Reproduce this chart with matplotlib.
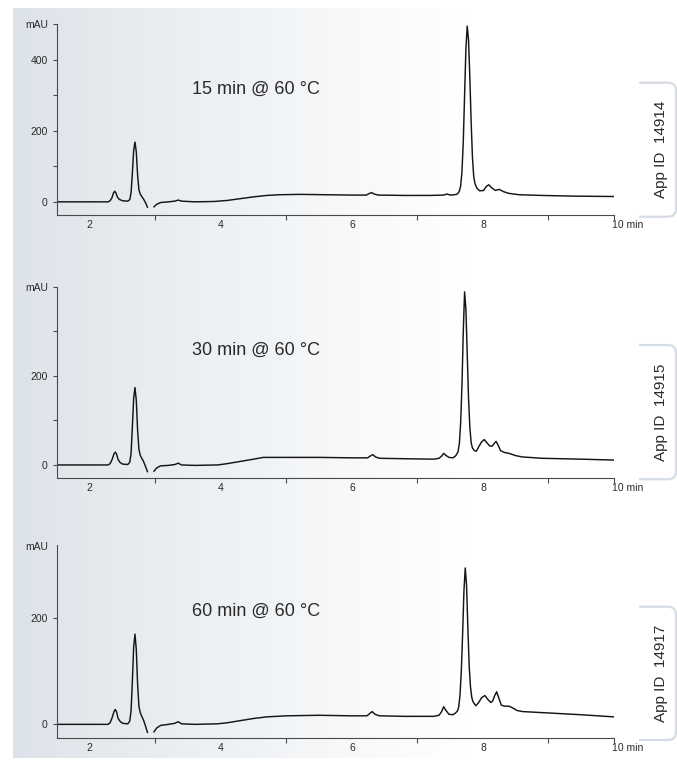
import numpy as np
import matplotlib
matplotlib.use("Agg")
import matplotlib.pyplot as plt
from matplotlib.path import Path
from matplotlib.patches import PathPatch

plt.rcParams['font.family'] = ['Liberation Sans', 'DejaVu Sans']

nan = float('nan')

# ---------------- data (retention time [min], signal [mAU]) ----------------
trace_15min = [
    (1.50, 0), (2.28, 0), (2.31, 3), (2.34, 12), (2.36, 24), (2.38, 30), (2.40, 25),
    (2.42, 14), (2.45, 7), (2.50, 3), (2.58, 2), (2.61, 6), (2.63, 25), (2.65, 80),
    (2.67, 145), (2.69, 168), (2.71, 140), (2.73, 75), (2.75, 34), (2.77, 22),
    (2.79, 16), (2.82, 8), (2.85, -2), (2.88, -15), (nan, nan),
    (2.98, -14), (3.02, -7), (3.08, -2), (3.20, 0), (3.30, 2), (3.35, 5), (3.40, 2),
    (3.60, 0), (3.90, 1), (4.10, 4), (4.30, 9), (4.50, 14), (4.70, 18), (4.90, 20),
    (5.20, 21), (5.60, 20), (6.00, 19), (6.22, 19), (6.26, 23), (6.30, 26), (6.34, 22),
    (6.40, 19), (6.80, 18), (7.20, 18), (7.40, 19), (7.45, 22), (7.50, 19), (7.56, 20),
    (7.60, 21), (7.62, 24), (7.64, 30), (7.66, 45), (7.68, 85), (7.70, 170), (7.72, 300),
    (7.74, 430), (7.76, 494), (7.78, 455), (7.80, 350), (7.82, 225), (7.84, 125),
    (7.86, 70), (7.88, 50), (7.91, 38), (7.95, 31), (8.01, 32), (8.05, 43), (8.09, 48),
    (8.13, 40), (8.19, 32), (8.25, 35), (8.31, 29), (8.39, 24), (8.55, 20), (8.90, 18),
    (9.40, 16), (10.0, 15),
]

trace_30min = [
    (1.50, 0), (2.28, 0), (2.31, 3), (2.34, 12), (2.37, 25), (2.39, 29), (2.41, 24),
    (2.43, 13), (2.46, 6), (2.50, 2), (2.58, 1), (2.61, 6), (2.63, 25), (2.65, 85),
    (2.67, 150), (2.69, 174), (2.71, 145), (2.73, 78), (2.75, 35), (2.77, 22),
    (2.79, 16), (2.82, 8), (2.85, -3), (2.88, -15), (nan, nan),
    (2.98, -14), (3.02, -7), (3.08, -2), (3.20, -1), (3.30, 1), (3.35, 4), (3.40, 0),
    (3.60, -1), (3.95, 0), (4.10, 3), (4.30, 8), (4.50, 13), (4.65, 17), (5.00, 17),
    (5.50, 17), (6.00, 16), (6.24, 16), (6.29, 21), (6.32, 23), (6.36, 18), (6.42, 15),
    (6.80, 14), (7.25, 13), (7.33, 15), (7.37, 20), (7.40, 26), (7.43, 22), (7.48, 17),
    (7.54, 16), (7.58, 20), (7.60, 24), (7.62, 30), (7.64, 48), (7.66, 95), (7.68, 180),
    (7.70, 300), (7.72, 389), (7.74, 350), (7.76, 250), (7.78, 150), (7.80, 85),
    (7.82, 50), (7.84, 38), (7.87, 32), (7.90, 31), (7.94, 42), (7.98, 52), (8.02, 57),
    (8.06, 50), (8.10, 43), (8.14, 42), (8.17, 48), (8.20, 53), (8.23, 45), (8.27, 32),
    (8.33, 28), (8.40, 26), (8.50, 21), (8.60, 18), (8.90, 15), (9.50, 13), (10.0, 11),
]

trace_60min = [
    (1.50, 0), (2.28, 0), (2.31, 3), (2.34, 12), (2.37, 24), (2.39, 28), (2.41, 23),
    (2.43, 12), (2.46, 6), (2.50, 2), (2.58, 1), (2.61, 6), (2.63, 25), (2.65, 80),
    (2.67, 145), (2.69, 169), (2.71, 140), (2.73, 75), (2.75, 34), (2.77, 22),
    (2.79, 16), (2.82, 8), (2.85, -3), (2.88, -15), (nan, nan),
    (2.98, -14), (3.02, -7), (3.08, -2), (3.20, 0), (3.30, 2), (3.35, 5), (3.40, 1),
    (3.60, 0), (3.95, 1), (4.10, 3), (4.30, 7), (4.50, 11), (4.70, 14), (5.00, 16),
    (5.50, 17), (6.00, 16), (6.23, 16), (6.28, 21), (6.31, 24), (6.35, 19), (6.42, 16),
    (6.80, 15), (7.25, 15), (7.33, 17), (7.37, 24), (7.40, 33), (7.43, 27), (7.48, 19),
    (7.54, 18), (7.58, 21), (7.61, 25), (7.63, 32), (7.65, 55), (7.67, 100), (7.69, 170),
    (7.71, 250), (7.73, 293), (7.75, 260), (7.77, 180), (7.79, 110), (7.81, 70),
    (7.83, 50), (7.85, 42), (7.89, 35), (7.93, 40), (7.98, 50), (8.03, 54), (8.08, 46),
    (8.12, 41), (8.15, 44), (8.18, 54), (8.21, 61), (8.24, 50), (8.28, 36), (8.33, 34),
    (8.40, 34), (8.45, 31), (8.52, 26), (8.60, 24), (8.90, 22), (9.50, 18), (10.0, 14),
]

panel_titles = ["15 min @ 60 °C", "30 min @ 60 °C", "60 min @ 60 °C"]
app_ids = ["App ID  14914", "App ID  14915", "App ID  14917"]
x_tick_labels = ["2", "4", "6", "8"]
x_major = [2, 4, 6, 8]
x_minor = [3, 5, 7, 9, 10]
y_ticks_list = [[0, 100, 200, 300, 400, 500], [0, 100, 200, 300, 400], [0, 200]]
y_label_list = [["0", "", "200", "", "400", "mAU"], ["0", "", "200", "", "mAU"], ["0", "200"]]

# ---------------- layout (pixels) ----------------
W, H = 677, 763
fig = plt.figure(figsize=(W / 100, H / 100), dpi=100)

bg = fig.add_axes([0, 0, 1, 1], zorder=0)
bg.set_xlim(0, W)
bg.set_ylim(H, 0)
bg.axis('off')

# background gradient panel
xs = np.linspace(13, W, 400)
tt = np.clip((xs - 13) / (470 - 13), 0, 1)
left_col = np.array([0.862, 0.887, 0.912])
cols = left_col[None, :] + (1 - left_col[None, :]) * (tt[:, None] ** 0.85)
bg.imshow(cols[None, :, :], extent=(13, W, 758, 8), aspect='auto',
          interpolation='bilinear', zorder=0)
bg.set_xlim(0, W)
bg.set_ylim(H, 0)

axes_boxes = [(24, 215), (287, 478.3), (545, 737.7)]
ylims = [(-37, 500), (-30, 400), (-25, 336)]
title_y = [315, 257, 211]
brackets = [(82.7, 216.7), (345, 479.3), (606.7, 740)]
x_left, x_right = 57, 614

traces = [trace_15min, trace_30min, trace_60min]
axis_col = '#4a4a4a'
text_col = '#2a2a2a'

for i in range(3):
    top, bot = axes_boxes[i]
    ax = fig.add_axes([x_left / W, 1 - bot / H, (x_right - x_left) / W, (bot - top) / H],
                      zorder=2)
    ax.patch.set_alpha(0)
    t = np.array([p[0] for p in traces[i]], dtype=float)
    v = np.array([p[1] for p in traces[i]], dtype=float)
    ax.plot(t, v, color='#151515', lw=1.05, solid_joinstyle='round')
    ax.set_xlim(1.5, 10)
    ax.set_ylim(*ylims[i])
    for s in ['top', 'right']:
        ax.spines[s].set_visible(False)
    for s in ['left', 'bottom']:
        ax.spines[s].set_color(axis_col)
        ax.spines[s].set_linewidth(0.8)

    ax.set_xticks(x_major)
    ax.set_xticklabels(x_tick_labels)
    ax.set_xticks(x_minor, minor=True)
    ax.tick_params(axis='x', which='major', length=0, pad=3.5, labelsize=7.5,
                   labelcolor=text_col)
    ax.tick_params(axis='x', which='minor', length=3.5, width=0.8, color=axis_col,
                   direction='out')
    ax.annotate("10 min", xy=(10, 0), xycoords=('data', 'axes fraction'),
                xytext=(-1.5, -3.5), textcoords='offset points', ha='left', va='top',
                fontsize=7.5, color=text_col)

    ax.set_yticks(y_ticks_list[i])
    ax.set_yticklabels(y_label_list[i])
    ax.tick_params(axis='y', which='major', length=3, width=0.8, color=axis_col,
                   direction='out', pad=3.6, labelsize=7.5, labelcolor=text_col)
    if i == 2:
        ax.annotate("mAU", xy=(0, ylims[i][1]), xycoords=('axes fraction', 'data'),
                    xytext=(-6.6, -1.5), textcoords='offset points', ha='right',
                    va='center', fontsize=7.5, color=text_col)

    ax.text(3.56, title_y[i], panel_titles[i], fontsize=13, color=text_col,
            ha='left', va='center')

    # App ID bracket and text
    btop, bbot = brackets[i]
    r = 8
    verts = [(640, btop), (676 - r, btop), (676, btop), (676, btop + r),
             (676, bbot - r), (676, bbot), (676 - r, bbot), (640, bbot)]
    codes = [Path.MOVETO, Path.LINETO, Path.CURVE3, Path.CURVE3,
             Path.LINETO, Path.CURVE3, Path.CURVE3, Path.LINETO]
    bg.add_patch(PathPatch(Path(verts, codes), fill=False, edgecolor='#d6dce4',
                           lw=1.6, zorder=1, capstyle='round'))
    bg.text(661.5, (btop + bbot) / 2, app_ids[i], rotation=90, fontsize=11,
            color=text_col, ha='center', va='center', zorder=2)

fig.savefig("out.png", dpi=100, facecolor='white')
